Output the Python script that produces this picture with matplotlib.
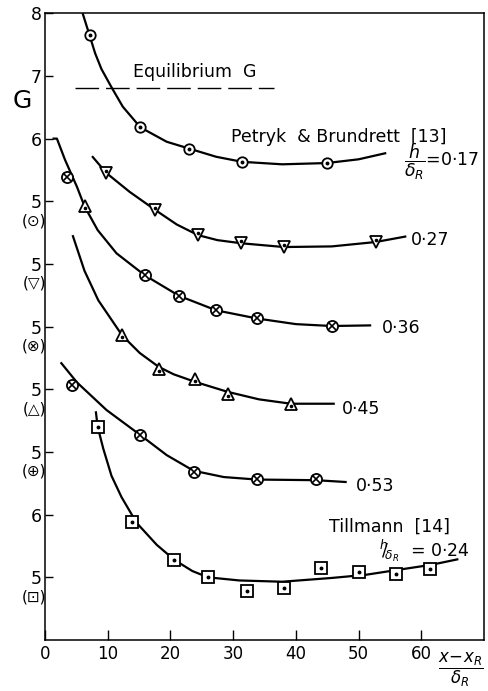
import matplotlib
matplotlib.use("Agg")
import matplotlib.pyplot as plt
import numpy as np

plt.rcParams['font.family'] = ['DejaVu Sans']
plt.rcParams['mathtext.fontset'] = 'dejavusans'

# each family is shifted on the stacked G scale by a whole number of units
shift17, shift27, shift36, shift45, shift53, shiftT = 2, 1, 0, -1, -2, -4

# h/dR = 0.17, Petryk & Brundrett  (circle with dot)
x17 = [7.1, 15.2, 23.0, 31.4, 44.9]
g17 = [7.65, 6.18, 5.84, 5.62, 5.61]
cx17 = [6.0, 7.1, 8.0, 9.0, 10.6, 12.4, 15.2, 19.4, 23.0, 27.3, 31.4, 37.8, 44.9, 50.0, 54.4]
cg17 = [8.0, 7.65, 7.36, 7.11, 6.82, 6.51, 6.18, 5.95, 5.84, 5.71, 5.63, 5.59, 5.61, 5.67, 5.77]
g_equil = 6.8
x_equil = [4.8, 36.5]

# h/dR = 0.27  (down triangle)
x27 = [9.8, 17.6, 24.4, 31.3, 38.1, 52.7]
g27 = [6.45, 5.86, 5.46, 5.33, 5.27, 5.35]
cx27 = [7.5, 9.8, 13.5, 17.6, 21.0, 24.4, 27.5, 31.3, 38.1, 45.7, 52.7, 57.6]
cg27 = [6.72, 6.45, 6.15, 5.86, 5.63, 5.46, 5.38, 5.33, 5.27, 5.28, 5.35, 5.44]

# h/dR = 0.36  (circle with cross)
x36 = [3.5, 15.9, 21.4, 27.3, 33.8, 45.7]
g36 = [7.38, 5.82, 5.49, 5.26, 5.13, 5.01]
x36_tri = [6.3]
g36_tri = [6.92]
cx36 = [1.2, 1.9, 3.2, 5.1, 6.3, 8.4, 11.4, 15.9, 21.4, 27.3, 33.8, 40.0, 45.7, 52.0]
cg36 = [8.0, 8.0, 7.66, 7.23, 6.92, 6.54, 6.17, 5.82, 5.49, 5.26, 5.13, 5.04, 5.01, 5.02]

# h/dR = 0.45  (up triangle)
x45 = [12.3, 18.1, 23.9, 29.1, 39.2]
g45 = [5.86, 5.33, 5.16, 4.92, 4.77]
cx45 = [4.4, 6.3, 8.5, 12.3, 15.1, 18.1, 20.5, 23.9, 29.1, 34.1, 39.2, 46.2]
cg45 = [7.46, 6.89, 6.42, 5.86, 5.58, 5.36, 5.24, 5.12, 4.96, 4.84, 4.77, 4.77]

# h/dR = 0.53  (circle with cross)
x53 = [4.3, 15.2, 23.7, 33.8, 43.2]
g53 = [6.07, 5.27, 4.68, 4.57, 4.57]
cx53 = [2.5, 5.1, 9.8, 15.2, 19.4, 23.7, 28.5, 33.8, 43.2, 48.1]
cg53 = [6.43, 6.11, 5.67, 5.27, 4.95, 4.70, 4.60, 4.56, 4.55, 4.52]

# Tillmann, h/dR = 0.24  (square with dot)
xT = [8.4, 13.8, 20.6, 26.0, 32.2, 38.1, 44.0, 50.0, 56.0, 61.4]
gT = [7.40, 5.88, 5.28, 5.00, 4.78, 4.83, 5.15, 5.08, 5.05, 5.13]
cxT = [8.1, 8.4, 9.3, 10.6, 12.2, 14.6, 17.8, 20.6, 23.5, 26.0, 31.0, 37.8, 45.7, 51.1, 56.3, 61.6, 65.9]
cgT = [7.65, 7.40, 7.05, 6.62, 6.28, 5.87, 5.52, 5.28, 5.10, 5.00, 4.95, 4.93, 4.99, 5.04, 5.12, 5.20, 5.29]

# stacked axis labels
ytick_pos = [1, 2, 3, 4, 5, 6, 7, 8, 9, 10]
ytick_txt = ['5', '6', '5', '5', '5', '5', '5', '6', '7', '8']
ytick_sym = ['⊡', '', '⊕', '△', '⊗', '▽', '⊙', '', '', '']
xtick_pos = [0, 10, 20, 30, 40, 50, 60]


def marks(ax, x, y, kind):
    x = np.asarray(x)
    y = np.asarray(y)
    if kind == 'circle':
        ax.plot(x, y, 'o', ms=7.5, mfc='white', mec='k', mew=1.3, zorder=3)
        ax.plot(x, y, 'o', ms=1.8, color='k', zorder=4)
    elif kind == 'cross':
        ax.plot(x, y, 'o', ms=8, mfc='white', mec='k', mew=1.3, zorder=3)
        ax.plot(x, y, 'x', ms=5.5, mec='k', mew=1.2, zorder=4)
    elif kind == 'down':
        ax.plot(x, y, 'v', ms=8.5, mfc='white', mec='k', mew=1.3, zorder=3)
        ax.plot(x, y + 0.03, 'o', ms=1.6, color='k', zorder=4)
    elif kind == 'up':
        ax.plot(x, y, '^', ms=8.5, mfc='white', mec='k', mew=1.3, zorder=3)
        ax.plot(x, y - 0.03, 'o', ms=1.6, color='k', zorder=4)
    elif kind == 'square':
        ax.plot(x, y, 's', ms=8, mfc='white', mec='k', mew=1.3, zorder=3)
        ax.plot(x, y, 'o', ms=1.8, color='k', zorder=4)


fig = plt.figure(figsize=(4.89, 6.91), dpi=100)
ax = fig.add_axes([0.092, 0.0738, 0.898, 0.907])

for cx, cg, s in [(cx17, cg17, shift17), (cx27, cg27, shift27), (cx36, cg36, shift36),
                  (cx45, cg45, shift45), (cx53, cg53, shift53), (cxT, cgT, shiftT)]:
    ax.plot(cx, np.array(cg) + s, color='k', lw=1.6, zorder=2, solid_capstyle='butt')

marks(ax, x17, np.array(g17) + shift17, 'circle')
marks(ax, x27, np.array(g27) + shift27, 'down')
marks(ax, x36, np.array(g36) + shift36, 'cross')
marks(ax, x36_tri, np.array(g36_tri) + shift36, 'up')
marks(ax, x45, np.array(g45) + shift45, 'up')
marks(ax, x53, np.array(g53) + shift53, 'cross')
marks(ax, xT, np.array(gT) + shiftT, 'square')

ax.plot(x_equil, [g_equil + shift17] * 2, color='k', lw=1.0, dashes=(17, 5))

fs = 12.5
ax.text(14.0, 9.06, 'Equilibrium  G', fontsize=fs, va='center')
ax.text(29.7, 8.02, 'Petryk  & Brundrett  [13]', fontsize=fs, va='center')
ax.text(57.2, 7.62, r'$\dfrac{h}{\delta_R}$=0·17', fontsize=fs, va='center')
ax.text(58.4, 6.38, '0·27', fontsize=fs, va='center')
ax.text(53.7, 4.98, '0·36', fontsize=fs, va='center')
ax.text(47.3, 3.68, '0·45', fontsize=fs, va='center')
ax.text(49.5, 2.46, '0·53', fontsize=fs, va='center')
ax.text(45.2, 1.80, 'Tillmann  [14]', fontsize=fs, va='center')
ax.text(53.3, 1.42, r'${}^{h}\!\!/\!_{\delta_R}$  = 0·24', fontsize=12.5, va='center')

ax.text(66.3, -0.48, r'$\dfrac{x\!-\!x_R}{\delta_R}$', fontsize=12, ha='center', va='center',
        clip_on=False)
ax.text(-3.65, 8.6, 'G', fontsize=18, ha='center', va='center', clip_on=False)

ax.set_xlim(0, 70)
ax.set_ylim(0, 10)
ax.set_xticks(xtick_pos)
ax.set_xticklabels([str(v) for v in xtick_pos], fontsize=12)
ax.set_yticks(ytick_pos)
ax.set_yticklabels(ytick_txt, fontsize=12.5)
for p, s in zip(ytick_pos, ytick_sym):
    if s:
        ax.text(-1.75, p - 0.31, '(' + s + ')', fontsize=11, ha='center', va='center',
                clip_on=False)

ax.tick_params(axis='y', direction='in', length=6, width=1.0, pad=2.5)
ax.tick_params(axis='x', direction='in', length=7, width=1.0, pad=3.5)
for sp in ax.spines.values():
    sp.set_linewidth(1.1)

fig.savefig('out.png', dpi=100)
